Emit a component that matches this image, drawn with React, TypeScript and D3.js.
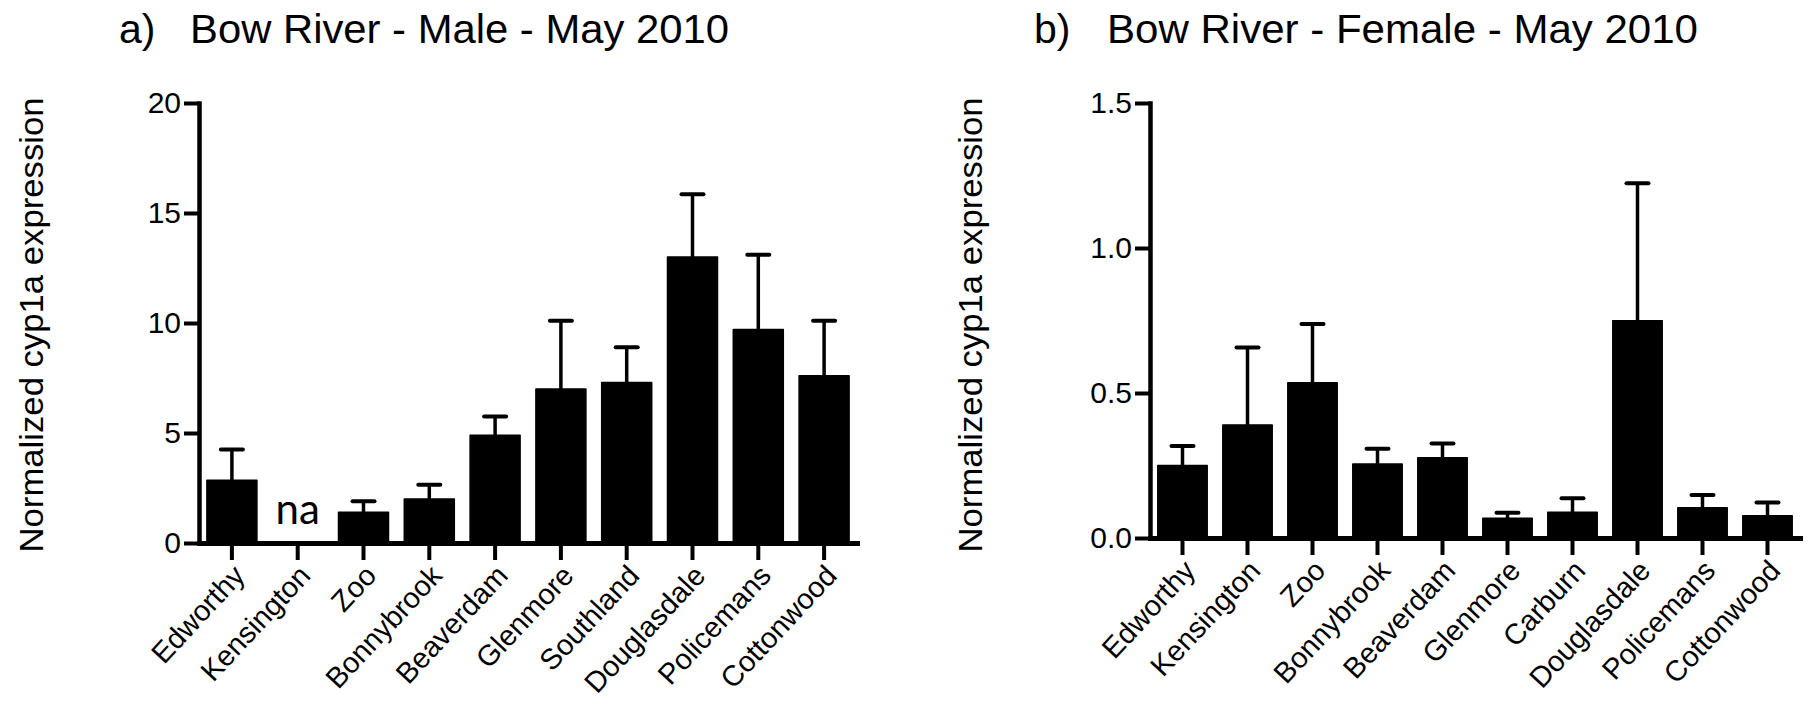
import React, { useEffect, useRef } from 'react';
import * as d3 from 'd3';

// Panel a: males
const maleSites = ['Edworthy', 'Kensington', 'Zoo', 'Bonnybrook', 'Beaverdam', 'Glenmore', 'Southland', 'Douglasdale', 'Policemans', 'Cottonwood'];
const maleMean: (number | null)[] = [2.85, null, 1.4, 2.0, 4.9, 7.0, 7.3, 13.0, 9.7, 7.6];
const maleSem: (number | null)[] = [1.4, null, 0.5, 0.65, 0.85, 3.1, 1.6, 2.85, 3.4, 2.5];
const maleTicks = [0, 5, 10, 15, 20];

// Panel b: females
const femaleSites = ['Edworthy', 'Kensington', 'Zoo', 'Bonnybrook', 'Beaverdam', 'Glenmore', 'Carburn', 'Douglasdale', 'Policemans', 'Cottonwood'];
const femaleMean: (number | null)[] = [0.25, 0.39, 0.535, 0.255, 0.277, 0.068, 0.089, 0.749, 0.104, 0.077];
const femaleSem: (number | null)[] = [0.067, 0.267, 0.203, 0.053, 0.049, 0.019, 0.048, 0.474, 0.044, 0.045];
const femaleTicks = [0, 0.5, 1.0, 1.5];

const yLabel = 'Normalized cyp1a expression';
const font = '"Liberation Sans", Arial, sans-serif';

interface PanelOpts {
  sites: string[];
  mean: (number | null)[];
  sem: (number | null)[];
  ticks: number[];
  fmt: (v: number) => string;
  letter: string;
  title: string;
  left: number;
  right: number;
  top: number;
  bottom: number;
  letterX: number;
  titleX: number;
  titleLen: number;
  labelX: number;
}

const drawPanel = (svg: d3.Selection<SVGSVGElement, unknown, null, undefined>, o: PanelOpts) => {
  const g = svg.append('g');

  const x = d3.scaleBand<string>().domain(o.sites).range([o.left, o.right]).paddingInner(0.24).paddingOuter(0.12);
  const y = d3.scaleLinear().domain([0, o.ticks[o.ticks.length - 1]]).range([o.bottom, o.top]);

  // bars
  const data = o.sites.map((s, i) => ({ site: s, mean: o.mean[i], sem: o.sem[i] }));
  g.selectAll('.bar')
    .data(data.filter((d) => d.mean !== null))
    .enter()
    .append('rect')
    .attr('x', (d) => x(d.site)!)
    .attr('y', (d) => y(d.mean!))
    .attr('width', x.bandwidth())
    .attr('height', (d) => o.bottom - y(d.mean!))
    .attr('fill', '#000')
    .attr('stroke', '#000')
    .attr('stroke-width', 1.5)
    .attr('stroke-linejoin', 'round');

  // error bars (upper only)
  const err = g.selectAll('.err').data(data.filter((d) => d.mean !== null)).enter().append('g');
  err
    .append('line')
    .attr('x1', (d) => x(d.site)! + x.bandwidth() / 2)
    .attr('x2', (d) => x(d.site)! + x.bandwidth() / 2)
    .attr('y1', (d) => y(d.mean!))
    .attr('y2', (d) => y(d.mean! + d.sem!))
    .attr('stroke', '#000')
    .attr('stroke-width', 3.5);
  err
    .append('line')
    .attr('x1', (d) => x(d.site)! + x.bandwidth() / 2 - 11)
    .attr('x2', (d) => x(d.site)! + x.bandwidth() / 2 + 11)
    .attr('y1', (d) => y(d.mean! + d.sem!))
    .attr('y2', (d) => y(d.mean! + d.sem!))
    .attr('stroke', '#000')
    .attr('stroke-width', 4)
    .attr('stroke-linecap', 'round');

  // na markers
  g.selectAll('.na')
    .data(data.filter((d) => d.mean === null))
    .enter()
    .append('text')
    .attr('x', (d) => x(d.site)! + x.bandwidth() / 2)
    .attr('y', o.bottom - 19)
    .attr('text-anchor', 'middle')
    .attr('font-family', 'Lato, "Open Sans", sans-serif')
    .attr('font-size', 42)
    .text('na');

  // y axis
  const ya = g
    .append('g')
    .attr('transform', `translate(${o.left},0)`)
    .call(d3.axisLeft(y).tickValues(o.ticks).tickFormat((v) => o.fmt(+v)).tickSize(15).tickSizeOuter(0).tickPadding(3));
  ya.select('.domain').attr('stroke-width', 4.5).attr('stroke-linecap', 'square');
  ya.selectAll('.tick line').attr('stroke-width', 4);
  ya.selectAll('.tick text').attr('font-family', font).attr('font-size', 30).attr('fill', '#000');

  // x axis
  const xa = g
    .append('g')
    .attr('transform', `translate(0,${o.bottom})`)
    .call(d3.axisBottom(x).tickSize(17).tickSizeOuter(0).tickFormat(() => ''));
  xa.select('.domain').attr('stroke-width', 5).attr('stroke-linecap', 'square');
  xa.selectAll('.tick line').attr('stroke-width', 4);

  g.selectAll('.xlab')
    .data(o.sites)
    .enter()
    .append('text')
    .attr('transform', (d) => `translate(${x(d)! + x.bandwidth() / 2 + 7},${o.bottom + 27}) rotate(-47)`)
    .attr('text-anchor', 'end')
    .attr('dy', '0.35em')
    .attr('font-family', font)
    .attr('font-size', 29)
    .text((d) => d);

  // y label
  g.append('text')
    .attr('transform', `translate(${o.labelX},325) rotate(-90)`)
    .attr('text-anchor', 'middle')
    .attr('dy', '0.35em')
    .attr('font-family', font)
    .attr('font-size', 33)
    .attr('textLength', 455)
    .attr('lengthAdjust', 'spacingAndGlyphs')
    .text(yLabel);

  // titles
  g.append('text').attr('x', o.letterX).attr('y', 43).attr('font-family', font).attr('font-size', 41).text(o.letter);
  g.append('text')
    .attr('x', o.titleX)
    .attr('y', 43)
    .attr('font-family', font)
    .attr('font-size', 41)
    .attr('textLength', o.titleLen)
    .attr('lengthAdjust', 'spacingAndGlyphs')
    .text(o.title);
};

const App: React.FC = () => {
  const ref = useRef<SVGSVGElement>(null);

  useEffect(() => {
    const svg = d3.select(ref.current!);
    svg.selectAll('*').remove();

    drawPanel(svg, {
      sites: maleSites,
      mean: maleMean,
      sem: maleSem,
      ticks: maleTicks,
      fmt: (v) => d3.format('d')(v),
      letter: 'a)',
      title: 'Bow River - Male - May 2010',
      left: 199,
      right: 857,
      top: 103,
      bottom: 543,
      letterX: 119,
      titleX: 190,
      titleLen: 539,
      labelX: 31,
    });

    drawPanel(svg, {
      sites: femaleSites,
      mean: femaleMean,
      sem: femaleSem,
      ticks: femaleTicks,
      fmt: (v) => d3.format('.1f')(v),
      letter: 'b)',
      title: 'Bow River - Female - May 2010',
      left: 1150,
      right: 1800,
      top: 103,
      bottom: 538,
      letterX: 1034,
      titleX: 1107,
      titleLen: 591,
      labelX: 970,
    });

    return () => {
      svg.selectAll('*').remove();
    };
  }, []);

  return (
    <svg
      ref={ref}
      width={1808}
      height={714}
      style={{ position: 'absolute', left: 0, top: 0, background: '#fff' }}
    />
  );
};

export default App;
